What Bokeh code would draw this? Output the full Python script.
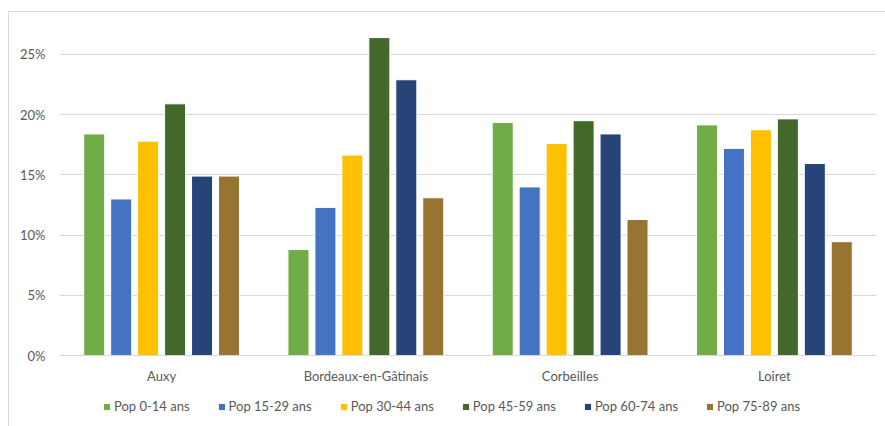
from bokeh.plotting import figure
from bokeh.models import ColumnDataSource, FactorRange, Range1d, NumeralTickFormatter, FixedTicker, Legend, LegendItem
from bokeh.transform import dodge
from bokeh.embed import file_html
from bokeh.resources import INLINE

places = ["Auxy", "Bordeaux-en-Gâtinais", "Corbeilles", "Loiret"]
series = ["Pop 0-14 ans", "Pop 15-29 ans", "Pop 30-44 ans", "Pop 45-59 ans", "Pop 60-74 ans", "Pop 75-89 ans"]
pop_0_14 = [0.184, 0.088, 0.1935, 0.1915]
pop_15_29 = [0.130, 0.123, 0.140, 0.172]
pop_30_44 = [0.178, 0.1665, 0.176, 0.1875]
pop_45_59 = [0.209, 0.264, 0.195, 0.1965]
pop_60_74 = [0.149, 0.229, 0.184, 0.1595]
pop_75_89 = [0.149, 0.131, 0.113, 0.0945]
colors = ["#70AD47", "#4472C4", "#FFC000", "#43682B", "#264478", "#977430"]
y_ticks = [0, 0.05, 0.10, 0.15, 0.20, 0.25]

values = [pop_0_14, pop_15_29, pop_30_44, pop_45_59, pop_60_74, pop_75_89]
keys = ["s%d" % i for i in range(len(series))]
data = {"place": places}
for k, v in zip(keys, values):
    data[k] = v
source = ColumnDataSource(data)

FONT = "Lato"
GREY = "#595959"

p = figure(x_range=FactorRange(*places), y_range=Range1d(-0.0548, 0.2782),
           width=877, height=415, output_backend="svg", toolbar_location=None,
           min_border_left=50, min_border_right=10, min_border_top=8, min_border_bottom=6,
           margin=(11, 0, 0, 8),
           styles={"border-left": "1px solid #d9d9d9", "border-top": "1px solid #d9d9d9"})
p.outline_line_color = None

slot = 0.132
items = []
for i, (k, name) in enumerate(zip(keys, series)):
    r = p.vbar(x=dodge("place", (i - 2.5) * slot, range=p.x_range), top=k, bottom=0, width=0.103,
               source=source, fill_color=colors[i], line_color="white", line_width=1)
    items.append(LegendItem(label=name, renderers=[r]))

p.xgrid.grid_line_color = None
p.ygrid.grid_line_color = "#d9d9d9"
p.ygrid.ticker = FixedTicker(ticks=y_ticks)

p.yaxis.ticker = FixedTicker(ticks=y_ticks)
p.yaxis.formatter = NumeralTickFormatter(format="0%")
p.yaxis.axis_line_color = None
p.yaxis.major_tick_line_color = None
p.yaxis.minor_tick_line_color = None
p.yaxis.major_tick_out = 0
p.yaxis.major_tick_in = 0
p.yaxis.minor_tick_out = 0
p.yaxis.major_label_standoff = 14
p.yaxis.major_label_text_font = FONT
p.yaxis.major_label_text_font_size = "13px"
p.yaxis.major_label_text_color = GREY

p.xaxis.fixed_location = 0
p.xaxis.axis_line_color = "#d9d9d9"
p.xaxis.major_tick_line_color = None
p.xaxis.minor_tick_line_color = None
p.xaxis.major_tick_out = 0
p.xaxis.major_tick_in = 0
p.xaxis.major_label_standoff = 12
p.xaxis.major_label_text_font = FONT
p.xaxis.major_label_text_font_size = "13px"
p.xaxis.major_label_text_color = GREY

legend = Legend(items=items, orientation="horizontal", location=(43, 7),
                glyph_width=9, glyph_height=9, label_standoff=3, spacing=27,
                label_height=14, label_text_baseline="middle",
                label_text_font=FONT, label_text_font_size="13px", label_text_color=GREY,
                border_line_color=None, background_fill_alpha=0, padding=0, margin=0)
p.add_layout(legend)

open("out.html", "w").write(file_html(p, INLINE))
